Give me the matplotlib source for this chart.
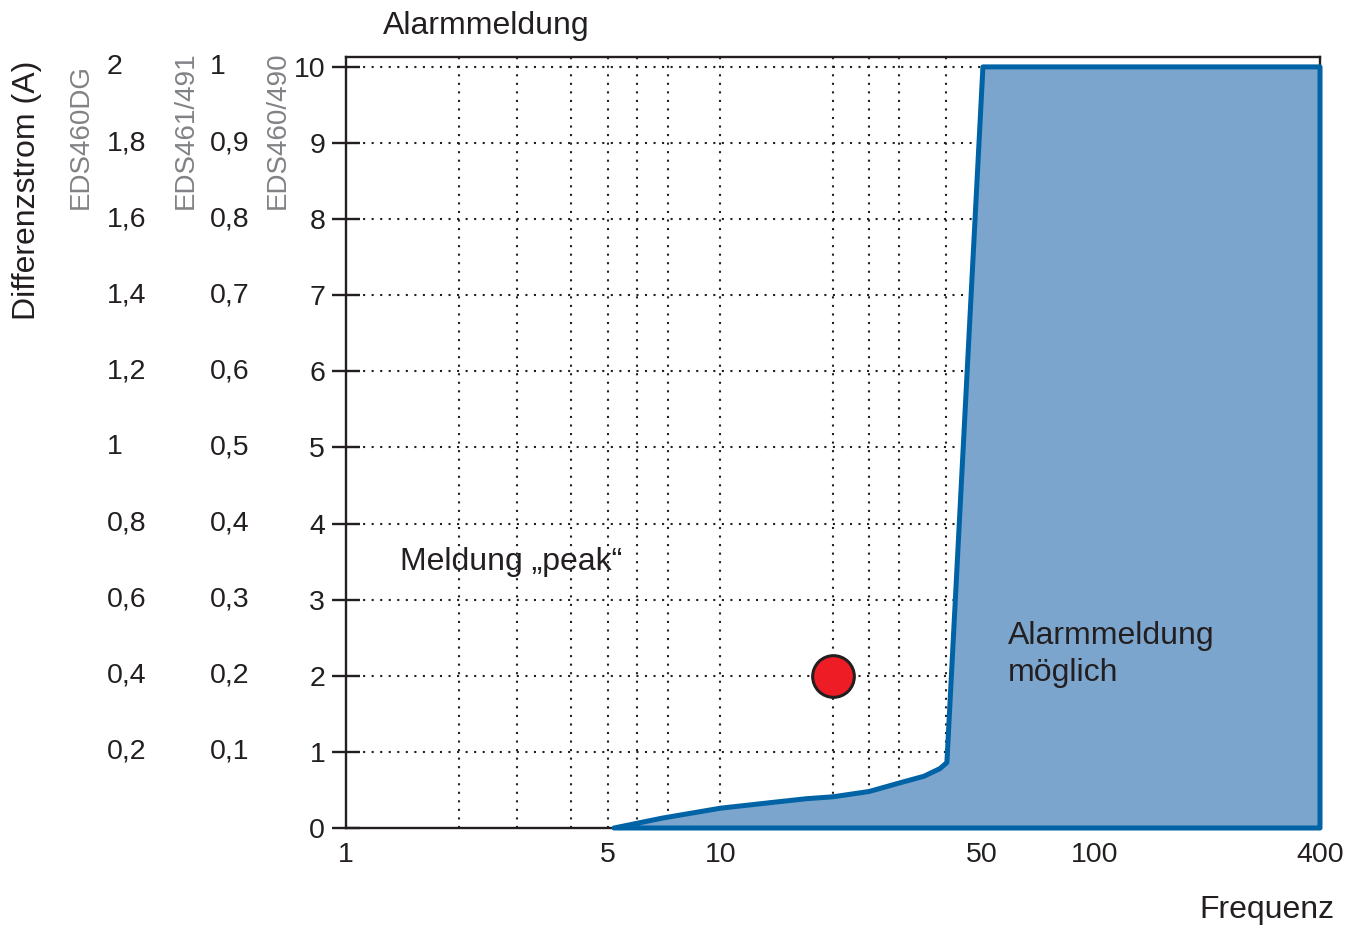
import matplotlib
matplotlib.use('Agg')
import matplotlib.pyplot as plt

plt.rcParams['font.family'] = ['Liberation Sans', 'DejaVu Sans']

# data
boundary_freq = [5.2, 7, 10, 14, 17, 20, 25, 30, 35, 38.6, 40.3, 50.3, 400, 400]
boundary_current = [0, 0.13, 0.26, 0.34, 0.385, 0.41, 0.48, 0.59, 0.68, 0.78, 0.86, 10, 10, 0]
grid_freq = [2, 2.86, 4, 5, 6, 7.25, 10, 20, 25, 30, 40]
grid_current = [1, 2, 3, 4, 5, 6, 7, 8, 9, 10]
freq_ticks = [1, 5, 10, 50, 100, 400]
freq_ticklabels = ['1', '5', '10', '50', '100', '400']
eds460_ticks = [0, 1, 2, 3, 4, 5, 6, 7, 8, 9, 10]
eds461_labels = ['0,1', '0,2', '0,3', '0,4', '0,5', '0,6', '0,7', '0,8', '0,9', '1']
eds460dg_labels = ['0,2', '0,4', '0,6', '0,8', '1', '1,2', '1,4', '1,6', '1,8', '2']
peak_freq = 20
peak_current = 2

dark = '#231f20'
grey = '#808285'
blue_edge = '#0063a6'
blue_fill = '#7ba5cd'

fig = plt.figure(figsize=(13.65, 9.31), dpi=100)
ax = fig.add_axes([346/1365, 103/931, 974/1365, 771/931])
ax.set_xscale('log')
ax.set_xlim(1, 400)
ax.set_ylim(0, 10.13)

# dotted grid
dots = dict(color=dark, lw=1.5, ls=(0, (1, 3.1)), zorder=1)
ax.hlines(grid_current, 1, 400, **dots)
ax.vlines(grid_freq, 0, 10.13, **dots)

# region where an alarm is possible
ax.fill(boundary_freq, boundary_current, facecolor=blue_fill,
        edgecolor=blue_edge, lw=3.6, joinstyle='round', zorder=3,
        clip_on=False)

# measured peak
ax.plot(peak_freq, peak_current, 'o', ms=30, mfc='#ee1c25', mec=dark,
        mew=2.2, zorder=4, clip_on=False)

for s in ax.spines.values():
    s.set_linewidth(1.7)
    s.set_color(dark)

ax.set_xticks(freq_ticks)
ax.set_xticklabels(freq_ticklabels)
ax.xaxis.set_minor_locator(matplotlib.ticker.NullLocator())
ax.tick_params(axis='x', length=0, pad=10, labelsize=20.5, labelcolor=dark)

ax.set_yticks(eds460_ticks)
ax.set_yticklabels([str(v) for v in eds460_ticks])
ax.tick_params(axis='y', direction='inout', length=20, width=1.7,
               color=dark, pad=5, labelsize=20.5, labelcolor=dark)

# extra current scales for the other devices
trans = ax.get_yaxis_transform()
for y, lab in zip(grid_current, eds461_labels):
    ax.text(-0.1396, y, lab, transform=trans, ha='left', va='center',
            fontsize=20.5, color=dark)
for y, lab in zip(grid_current, eds460dg_labels):
    ax.text(-0.2454, y, lab, transform=trans, ha='left', va='center',
            fontsize=20.5, color=dark)

for xpx, name in [(81, 'EDS460DG'), (186, 'EDS461/491'), (278, 'EDS460/490')]:
    fig.text(xpx/1365, 1 - 209/931, name, rotation=90, ha='center',
             va='bottom', fontsize=20, color=grey)

fig.text(27/1365, 1 - 190/931, 'Differenzstrom (A)', rotation=90,
         ha='center', va='center', fontsize=23, color=dark)
fig.text(383/1365, 1 - 34/931, 'Alarmmeldung', ha='left', va='baseline',
         fontsize=23, color=dark)
fig.text(1334/1365, 1 - 918/931, 'Frequenz', ha='right', va='baseline',
         fontsize=23, color=dark)

ax.text(1.394, 3.39, 'Meldung \u201epeak\u201c', ha='left', va='baseline',
        fontsize=23, color=dark, zorder=5)
ax.text(58.7, 1.93, 'Alarmmeldung\nm\u00f6glich', ha='left', va='baseline',
        fontsize=23, color=dark, linespacing=1.33, zorder=5)

fig.savefig('out.png', dpi=100)
